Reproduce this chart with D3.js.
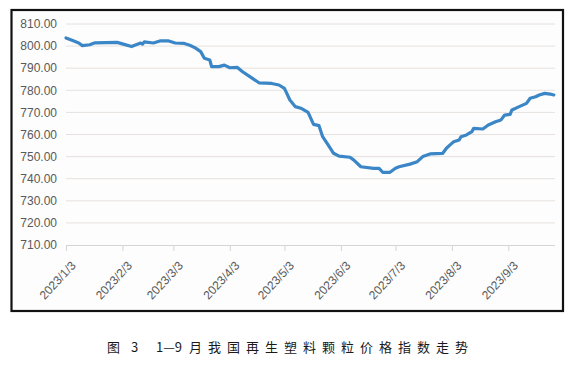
<!DOCTYPE html>
<html><head><meta charset="utf-8">
<script src="https://cdn.jsdelivr.net/npm/d3@7"></script>
<style>
html,body{margin:0;padding:0;background:#fff;}
svg{display:block;}
</style></head>
<body>
<script>
// Data
const dates = ["2023-01-03","2023-01-07","2023-01-10","2023-01-12","2023-01-16","2023-01-19","2023-01-31","2023-02-03","2023-02-08","2023-02-13","2023-02-14","2023-02-15","2023-02-20","2023-02-24","2023-02-28","2023-03-04","2023-03-09","2023-03-12","2023-03-15","2023-03-18","2023-03-20","2023-03-23","2023-03-24","2023-03-28","2023-03-31","2023-04-03","2023-04-07","2023-04-10","2023-04-14","2023-04-19","2023-04-26","2023-04-30","2023-05-03","2023-05-06","2023-05-09","2023-05-12","2023-05-16","2023-05-19","2023-05-22","2023-05-24","2023-05-27","2023-05-30","2023-06-02","2023-06-08","2023-06-10","2023-06-14","2023-06-21","2023-06-24","2023-06-26","2023-06-30","2023-07-03","2023-07-05","2023-07-11","2023-07-15","2023-07-18","2023-07-22","2023-07-29","2023-07-31","2023-08-02","2023-08-04","2023-08-07","2023-08-08","2023-08-11","2023-08-14","2023-08-15","2023-08-20","2023-08-23","2023-08-27","2023-08-30","2023-09-01","2023-09-04","2023-09-05","2023-09-09","2023-09-13","2023-09-15","2023-09-18","2023-09-20","2023-09-23","2023-09-26","2023-09-28"];
const values = [803.7,802.4,801.4,800.2,800.6,801.5,801.7,801.0,799.8,801.4,800.9,801.9,801.4,802.4,802.4,801.4,801.2,800.4,799.2,797.5,794.5,793.7,790.7,790.7,791.4,790.2,790.4,788.4,786.2,783.4,783.1,782.4,780.9,775.6,772.6,771.9,770.0,764.6,764.0,759.0,755.3,751.5,750.2,749.7,748.5,745.4,744.7,744.7,742.9,742.9,744.7,745.4,746.6,747.7,750.0,751.2,751.5,753.8,755.3,756.7,757.5,759.0,759.8,761.3,762.8,762.5,764.3,765.8,766.6,768.8,769.1,771.1,772.6,774.1,776.4,777.1,777.9,778.6,778.3,777.9];
const tickLabels = ["2023/1/3","2023/2/3","2023/3/3","2023/4/3","2023/5/3","2023/6/3","2023/7/3","2023/8/3","2023/9/3"];
const yTicks = [710,720,730,740,750,760,770,780,790,800,810];
const captionParts = ["图", "3", "1—9", "月我国再生塑料颗粒价格指数走势"];

const W = 577, H = 382;
const svg = d3.select("body").append("svg").attr("width", W).attr("height", H);
svg.append("rect").attr("width", W).attr("height", H).attr("fill", "#fff");

const clip = svg.append("defs").append("clipPath").attr("id", "frameClip");
clip.append("rect").attr("x", 11.5).attr("y", 10).attr("width", 551.5).attr("height", 301);

// frame background
svg.append("rect").attr("x", 11.5).attr("y", 10).attr("width", 551.5).attr("height", 301)
  .attr("fill", "#fdfdfd");

const parse = d3.timeParse("%Y-%m-%d");
const pts = dates.map((d, i) => ({d: parse(d), v: values[i]}));
const tickDates = tickLabels.map(t => d3.timeParse("%Y/%m/%d")(t));

const x = d3.scaleTime().domain([parse("2023-01-03"), parse("2023-09-03")]).range([66, 508.3]);
const y = d3.scaleLinear().domain([710, 810]).range([245, 24]);
const xEnd = 555;

const inner = svg.append("g").attr("clip-path", "url(#frameClip)");

// gridlines
inner.append("g").selectAll("line").data(yTicks.filter(t => t > 710)).join("line")
  .attr("x1", 66).attr("x2", xEnd).attr("y1", d => y(d)).attr("y2", d => y(d))
  .attr("stroke", "#e6e1de").attr("stroke-width", 1);

// y labels
inner.append("g").selectAll("text").data(yTicks).join("text")
  .attr("x", 57).attr("y", d => y(d)).attr("dy", "0.35em")
  .attr("text-anchor", "end").attr("font-family", "Liberation Sans, Arial, sans-serif")
  .attr("font-size", 12).attr("fill", "#595959").text(d => d3.format(".2f")(d));

// x axis
const xAxis = d3.axisBottom(x).tickValues(tickDates).tickSize(6).tickFormat((d, i) => tickLabels[i]);
const gx = inner.append("g").attr("transform", `translate(0,${y(710)})`).call(xAxis);
gx.select(".domain").attr("d", `M66,0.5H${xEnd}`).attr("stroke", "#d4d4d4");
gx.selectAll(".tick line").attr("stroke", "#d4d4d4");
gx.selectAll(".tick text")
  .attr("font-family", "Liberation Sans, Arial, sans-serif").attr("font-size", 12).attr("fill", "#595959")
  .attr("text-anchor", "end").attr("dy", 0).attr("y", 0)
  .attr("transform", "translate(10,21) rotate(-47)");

// line
const line = d3.line().x(d => x(d.d)).y(d => y(d.v));
inner.append("path").datum(pts).attr("d", line).attr("fill", "none")
  .attr("stroke", "#3a86c6").attr("stroke-width", 3.2).attr("stroke-linejoin", "round").attr("stroke-linecap", "round");

// frame border
svg.append("rect").attr("x", 11.5).attr("y", 10).attr("width", 551.5).attr("height", 301)
  .attr("fill", "none").attr("stroke", "#111").attr("stroke-width", 2.2);

// caption
const cap = svg.append("text").attr("y", 352)
  .attr("font-family", "Noto Sans CJK SC, sans-serif").attr("font-size", 13).attr("fill", "#1a1a1a");
const capX = [107, 131, 156, 189];
const capLS = ["0px", "0px", "0px", "6px"];
captionParts.forEach((p, i) => {
  cap.append("tspan").attr("x", capX[i]).attr("letter-spacing", capLS[i]).text(p);
});
</script>
</body></html>
